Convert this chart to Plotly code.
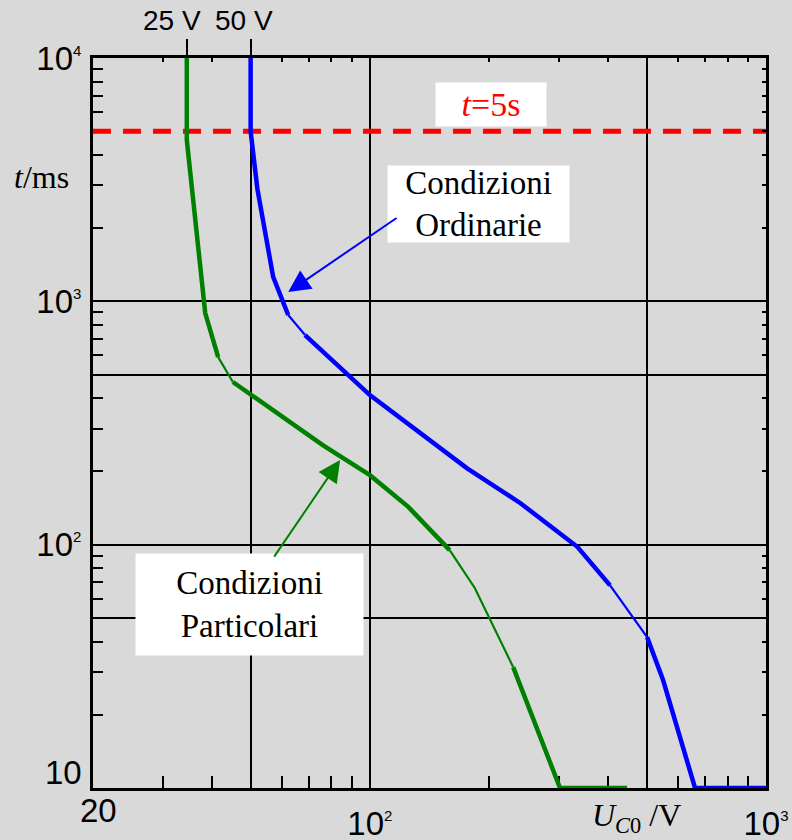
import math
import plotly.graph_objects as go

# ---------------- data ----------------
# "Condizioni Ordinarie" curve (blue): U_C0 [V] vs t [ms]
ord_u = [50, 50, 52, 57, 62.2, 68.6, 100, 176, 240, 334, 404, 501, 550, 662, 1000]
ord_t = [10000, 5000, 2900, 1260, 879, 727, 412, 206, 148, 98, 68, 41.7, 27.7, 10, 10]
# "Condizioni Particolari" curve (green)
par_u = [34.5, 34.5, 38.4, 41.4, 45.1, 76.2, 100, 125, 159, 184, 230, 302, 446]
par_t = [10000, 4600, 895, 590, 466, 256, 193, 143, 95, 66.4, 31.4, 10, 10]
# t = 5 s limit line
limit_u = [20, 1000]
limit_t = [5000, 5000]

# axis ranges / ticks
x_lim = [20, 1000]
y_lim = [10, 10000]
x_label_vals = [100, 1000]
x_label_text = ["10<sup><span style='font-size:15px'>2</span></sup>",
                "10<sup><span style='font-size:15px'>3</span></sup>"]
x_left_label = "20"
x_extra_grid = [50, 500]
x_minor = [30, 40, 60, 70, 80, 90, 200, 300, 400, 600, 700, 800, 900]
y_label_vals = [100, 1000, 10000]
y_label_text = ["10<sup><span style='font-size:15px'>2</span></sup>",
                "10<sup><span style='font-size:15px'>3</span></sup>",
                "10<sup><span style='font-size:15px'>4</span></sup>"]
y_bottom_label = "10"
y_extra_grid = [50, 500]
y_minor = [20, 30, 40, 60, 70, 80, 90, 200, 300, 400, 600, 700, 800, 900,
           2000, 3000, 4000, 6000, 7000, 8000, 9000, 5000]
top_labels = ["25 V", "50 V"]
top_label_u = [par_u[0], ord_u[0]]

# ---------------- styles ----------------
BG = "#d9d9d9"
SANS = "Arial, Liberation Sans, sans-serif"
SERIF = "Times New Roman, Liberation Serif, serif"
BLUE = "#0000ff"
GREEN = "#008000"
RED = "#ff0000"
THICK, THIN = 4.5, 2.2
# per-segment stroke (1 = thick, 0 = thin)
ord_seg = [1, 1, 1, 1, 0, 1, 1, 1, 1, 1, 0, 1, 1, 1]
par_seg = [1, 1, 1, 0, 1, 1, 1, 1, 0, 0, 1, 1]

fig = go.Figure()

# red dashed 5 s limit
fig.add_trace(go.Scatter(x=limit_u, y=limit_t, mode="lines",
                         line=dict(color=RED, width=5, dash="18px,12px"),
                         hoverinfo="skip", showlegend=False))


def add_curve(us, ts, segs, color):
    # group consecutive segments with the same stroke into one trace
    start = 0
    for i in range(1, len(segs) + 1):
        if i == len(segs) or segs[i] != segs[start]:
            fig.add_trace(go.Scatter(
                x=us[start:i + 1], y=ts[start:i + 1], mode="lines",
                line=dict(color=color, width=THICK if segs[start] else THIN),
                hoverinfo="skip", showlegend=False))
            start = i


add_curve(par_u, par_t, par_seg, GREEN)
add_curve(ord_u, ord_t, ord_seg, BLUE)

# invisible traces to anchor the helper axes
fig.add_trace(go.Scatter(x=x_lim, y=y_lim, xaxis="x2", yaxis="y2", mode="lines",
                         line=dict(width=0), opacity=0, hoverinfo="skip",
                         showlegend=False))
fig.add_trace(go.Scatter(x=x_lim, y=y_lim, xaxis="x3", yaxis="y", mode="lines",
                         line=dict(width=0), opacity=0, hoverinfo="skip",
                         showlegend=False))

lx = [math.log10(v) for v in x_lim]
ly = [math.log10(v) for v in y_lim]

axis_common = dict(type="log", showline=True, linecolor="black", linewidth=3,
                   zeroline=False, layer="below traces", automargin=False)
grid = dict(showgrid=True, gridcolor="black", gridwidth=2)

fig.update_layout(
    width=792, height=840,
    margin=dict(l=93, r=26, t=58, b=52, autoexpand=False),
    paper_bgcolor=BG, plot_bgcolor=BG,
    showlegend=False,
    xaxis=dict(**axis_common, **grid, range=lx, mirror=True,
               tickmode="array", tickvals=x_label_vals, ticktext=x_label_text,
               ticks="inside", ticklen=12, tickwidth=2, tickcolor="black",
               tickfont=dict(family=SANS, size=33, color="black"),
               ticklabelstandoff=4,
               minor=dict(tickmode="array", tickvals=x_minor, ticks="inside",
                          ticklen=12, tickwidth=2, tickcolor="black", showgrid=False)),
    yaxis=dict(**axis_common, **grid, range=ly, mirror=True,
               tickmode="array", tickvals=y_label_vals, ticktext=y_label_text,
               ticks="inside", ticklen=10, tickwidth=2, tickcolor="black",
               tickfont=dict(family=SANS, size=33, color="black"),
               ticklabelstandoff=2,
               minor=dict(tickmode="array", tickvals=y_minor, ticks="inside",
                          ticklen=10, tickwidth=2, tickcolor="black", showgrid=False)),
    xaxis2=dict(type="log", range=lx, overlaying="x", side="top", anchor="y",
                showline=False, showgrid=False, zeroline=False, automargin=False,
                tickmode="array", tickvals=top_label_u, showticklabels=False,
                ticks="outside", ticklen=18, tickwidth=2, tickcolor="black",
                minor=dict(tickmode="array", tickvals=x_minor, ticks="inside",
                           ticklen=4, tickwidth=2, tickcolor="black", showgrid=False)),
    xaxis3=dict(type="log", range=lx, overlaying="x", side="bottom", anchor="y",
                showline=False, zeroline=False, automargin=False, **grid,
                tickmode="array", tickvals=x_extra_grid, showticklabels=False,
                ticks=""),
    yaxis2=dict(type="log", range=ly, overlaying="y", side="right", anchor="x",
                showline=False, zeroline=False, automargin=False, **grid,
                tickmode="array", tickvals=y_extra_grid, showticklabels=False,
                ticks="",
                minor=dict(tickmode="array", tickvals=y_minor, ticks="inside",
                           ticklen=4, tickwidth=2, tickcolor="black", showgrid=False)),
)

C = dict(xanchor="center", yanchor="middle", showarrow=False)
annotations = []
# bottom-left "10" y label (sits above the corner)
annotations.append(dict(x=0, xref="paper", y=ly[0], yref="y", text=y_bottom_label,
                        showarrow=False, xanchor="right", yanchor="bottom",
                        xshift=-9, yshift=-5,
                        font=dict(family=SANS, size=33, color="black")))
# left "20" x label
annotations.append(dict(x=lx[0], xref="x", y=0, yref="paper", text=x_left_label,
                        showarrow=False, xanchor="center", yanchor="top",
                        xshift=5, yshift=-2,
                        font=dict(family=SANS, size=33, color="black")))
# top voltage labels
for lab, u, sh in zip(top_labels, top_label_u, [-15, -7]):
    annotations.append(dict(x=math.log10(u), xref="x", y=1, yref="paper", text=lab,
                            showarrow=False, xanchor="center", yanchor="bottom",
                            xshift=sh, yshift=20,
                            font=dict(family=SANS, size=28, color="black")))
# axis titles
annotations.append(dict(x=-0.077, xref="paper", y=0.837, yref="paper",
                        text="<i>t</i>/ms", **C,
                        font=dict(family=SERIF, size=32, color="black")))
annotations.append(dict(x=0.807, xref="paper", y=-0.040, yref="paper",
                        text="<i>U</i><sub><i>C</i>0</sub> /V", **C,
                        font=dict(family=SERIF, size=32, color="black")))
# t = 5 s label
annotations.append(dict(x=0.591, xref="paper", y=0.936, yref="paper",
                        text="<i>t</i>=5s", bgcolor="white", **C,
                        width=104, height=37, borderpad=3,
                        font=dict(family=SERIF, size=34, color=RED)))
# boxes
annotations.append(dict(x=0.573, xref="paper", y=0.800, yref="paper",
                        text="Condizioni<br>Ordinarie", **C,
                        bgcolor="white", width=175, height=70, borderpad=3,
                        font=dict(family=SERIF, size=33, color="black")))
annotations.append(dict(x=0.2325, xref="paper", y=0.2514, yref="paper",
                        text="Condizioni<br>Particolari", **C,
                        bgcolor="white", width=221, height=95, borderpad=3,
                        font=dict(family=SERIF, size=33, color="black")))
# arrows (head, tail) in data units
arrows = [((62.2, 1092), (117.8, 2221), BLUE), ((84.1, 223), (57, 88), GREEN)]
for (hu, ht), (tu, tt), col in arrows:
    annotations.append(dict(x=math.log10(hu), y=math.log10(ht), xref="x", yref="y",
                            ax=math.log10(tu), ay=math.log10(tt), axref="x", ayref="y",
                            text="", showarrow=True, arrowhead=2, arrowsize=2.2,
                            arrowwidth=2, arrowcolor=col, standoff=0))
fig.update_layout(annotations=annotations)

fig.write_html("out.html")
